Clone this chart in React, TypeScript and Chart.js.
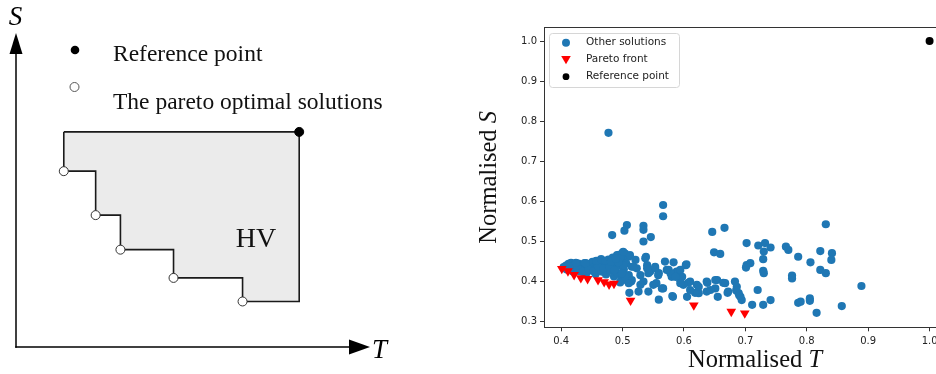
import React, { useEffect, useRef } from "react";
import { Chart, registerables } from "chart.js";
Chart.register(...registerables);

// ---------- Left schematic (hypervolume illustration) ----------
const paretoT = [13.5, 22.5, 29.5, 44.5, 64];
const paretoS = [56, 42, 31, 22, 14.5];
const refT = 80;
const refS = 68.5;
const leftLegend = ["Reference point", "The pareto optimal solutions"];

// ---------- Right scatter ----------
const otherT = [
  0.404, 0.408, 0.412, 0.416, 0.418, 0.422, 0.425, 0.428, 0.43, 0.433, 0.436, 0.438, 0.441, 0.443, 0.446,
  0.449, 0.451, 0.454, 0.456, 0.458, 0.461, 0.463, 0.466, 0.468, 0.471, 0.473, 0.475, 0.477, 0.48, 0.482,
  0.484, 0.486, 0.488, 0.49, 0.492, 0.494, 0.496, 0.498, 0.5, 0.502, 0.504, 0.506, 0.508, 0.51,
  0.477, 0.566, 0.566, 0.507, 0.503, 0.483, 0.534, 0.534, 0.546, 0.534, 0.646, 0.666, 0.649, 0.659,
  0.491, 0.5, 0.496, 0.512, 0.521, 0.515, 0.51, 0.514, 0.511, 0.526, 0.523, 0.529, 0.538, 0.54, 0.545,
  0.534, 0.542, 0.555, 0.559, 0.559, 0.569, 0.566, 0.575, 0.583, 0.582, 0.58, 0.588, 0.594, 0.603, 0.605,
  0.61, 0.621, 0.624, 0.637, 0.637, 0.654, 0.651, 0.664, 0.672, 0.683, 0.702, 0.721, 0.732, 0.741, 0.73,
  0.729, 0.766, 0.77, 0.786, 0.806, 0.822, 0.831, 0.841, 0.84, 0.822, 0.831, 0.702, 0.708, 0.701, 0.729,
  0.73, 0.776, 0.776, 0.889, 0.72, 0.711, 0.729, 0.741, 0.786, 0.79, 0.805, 0.805, 0.816, 0.857, 0.686,
  0.692, 0.694, 0.689, 0.667, 0.671, 0.655, 0.643, 0.638, 0.618, 0.607, 0.604, 0.597, 0.553, 0.542, 0.578,
  0.594, 0.599, 0.61, 0.501, 0.537, 0.501, 0.501, 0.518, 0.515, 0.54, 0.553, 0.558, 0.572, 0.55, 0.564,
  0.586, 0.594, 0.624, 0.581, 0.501, 0.51, 0.529, 0.651, 0.685, 0.69, 0.496, 0.504,
  0.409, 0.419, 0.427, 0.435, 0.445, 0.453, 0.46, 0.469, 0.479, 0.487, 0.493, 0.499, 0.414, 0.424, 0.44,
  0.457, 0.465, 0.472, 0.481, 0.489,
];
const otherS = [
  0.436, 0.44, 0.444, 0.447, 0.432, 0.441, 0.437, 0.445, 0.426, 0.44, 0.432, 0.446, 0.421, 0.438, 0.443,
  0.428, 0.449, 0.436, 0.419, 0.444, 0.431, 0.451, 0.425, 0.44, 0.447, 0.418, 0.434, 0.455, 0.427, 0.442,
  0.46, 0.413, 0.436, 0.45, 0.421, 0.467, 0.44, 0.409, 0.456, 0.43, 0.47, 0.445, 0.404, 0.462,
  0.771, 0.591, 0.563, 0.541, 0.527, 0.516, 0.539, 0.529, 0.511, 0.5, 0.524, 0.534, 0.473, 0.469,
  0.466, 0.472, 0.458, 0.466, 0.454, 0.437, 0.416, 0.4, 0.372, 0.375, 0.433, 0.416, 0.462, 0.441, 0.425,
  0.4, 0.375, 0.396, 0.355, 0.421, 0.45, 0.383, 0.429, 0.448, 0.362, 0.412, 0.425, 0.404, 0.441, 0.362,
  0.4, 0.392, 0.371, 0.4, 0.375, 0.404, 0.383, 0.397, 0.375, 0.4, 0.496, 0.49, 0.496, 0.485, 0.475,
  0.456, 0.487, 0.479, 0.462, 0.448, 0.476, 0.543, 0.471, 0.454, 0.429, 0.421, 0.441, 0.446, 0.435, 0.427,
  0.421, 0.415, 0.408, 0.389, 0.379, 0.342, 0.342, 0.354, 0.347, 0.35, 0.358, 0.352, 0.322, 0.339, 0.387,
  0.362, 0.354, 0.371, 0.396, 0.372, 0.362, 0.379, 0.397, 0.372, 0.397, 0.443, 0.412, 0.433, 0.421, 0.421,
  0.429, 0.392, 0.379, 0.474, 0.458, 0.441, 0.412, 0.437, 0.404, 0.433, 0.437, 0.416, 0.429, 0.392, 0.383,
  0.412, 0.396, 0.387, 0.364, 0.404, 0.396, 0.392, 0.404, 0.378, 0.366, 0.398, 0.413,
  0.43, 0.425, 0.432, 0.424, 0.431, 0.426, 0.438, 0.433, 0.437, 0.428, 0.448, 0.421, 0.438, 0.447, 0.446,
  0.452, 0.456, 0.452, 0.449, 0.457,
];
const frontT = [0.401, 0.411, 0.421, 0.432, 0.443, 0.46, 0.47, 0.478, 0.486, 0.513, 0.616, 0.677, 0.699];
const frontS = [0.432, 0.426, 0.417, 0.409, 0.407, 0.404, 0.399, 0.393, 0.395, 0.353, 0.341, 0.325, 0.321];
const refPointT = [1.0];
const refPointS = [1.0];
const xTicks = [0.4, 0.5, 0.6, 0.7, 0.8, 0.9, 1.0];
const yTicks = [0.3, 0.4, 0.5, 0.6, 0.7, 0.8, 0.9, 1.0];
const seriesNames = ["Other solutions", "Pareto front", "Reference point"];
const xTitle = ["Normalised ", "T"];
const yTitle = ["Normalised ", "S"];

const SERIF = '"Liberation Serif", "Times New Roman", serif';
const SANS = '"DejaVu Sans", sans-serif';

function buildHull() {
  const pts: { x: number; y: number }[] = [{ x: paretoT[0], y: refS }];
  paretoT.forEach((t, i) => {
    pts.push({ x: t, y: paretoS[i] });
    const nx = i < paretoT.length - 1 ? paretoT[i + 1] : refT;
    pts.push({ x: nx, y: paretoS[i] });
  });
  pts.push({ x: refT, y: refS });
  pts.push({ x: paretoT[0], y: refS });
  return pts;
}

const leftDecor = {
  id: "leftDecor",
  afterDraw(chart: any) {
    const { ctx, chartArea } = chart;
    const { left, top, right, bottom } = chartArea;
    ctx.save();
    ctx.strokeStyle = "#000";
    ctx.fillStyle = "#000";
    ctx.lineWidth = 1.5;
    ctx.beginPath();
    ctx.moveTo(left, bottom + 0.75);
    ctx.lineTo(left, top + 18);
    ctx.stroke();
    ctx.beginPath();
    ctx.moveTo(left, top);
    ctx.lineTo(left - 6.5, top + 21);
    ctx.lineTo(left + 6.5, top + 21);
    ctx.closePath();
    ctx.fill();
    ctx.beginPath();
    ctx.moveTo(left - 0.75, bottom);
    ctx.lineTo(right - 18, bottom);
    ctx.stroke();
    ctx.beginPath();
    ctx.moveTo(right, bottom);
    ctx.lineTo(right - 21, bottom - 7.5);
    ctx.lineTo(right - 21, bottom + 7.5);
    ctx.closePath();
    ctx.fill();
    ctx.font = "italic 27px " + SERIF;
    ctx.textBaseline = "alphabetic";
    ctx.textAlign = "center";
    ctx.fillText("S", left - 0.5, top - 8);
    ctx.textAlign = "left";
    ctx.fillText("T", right + 2, bottom + 11);
    ctx.beginPath();
    ctx.arc(75, 50, 4.3, 0, Math.PI * 2);
    ctx.fill();
    ctx.beginPath();
    ctx.fillStyle = "#fff";
    ctx.strokeStyle = "#555";
    ctx.lineWidth = 1;
    ctx.arc(74.5, 87, 4.5, 0, Math.PI * 2);
    ctx.fill();
    ctx.stroke();
    ctx.fillStyle = "#111";
    ctx.font = "23.5px " + SERIF;
    ctx.fillText(leftLegend[0], 113, 61);
    ctx.fillText(leftLegend[1], 113, 109);
    ctx.font = "28px " + SERIF;
    const xs = chart.scales.x;
    const ys = chart.scales.y;
    ctx.fillText("HV", xs.getPixelForValue(62.1), ys.getPixelForValue(31.8));
    ctx.restore();
  },
};

const rightDecor = {
  id: "rightDecor",
  afterDraw(chart: any) {
    const { ctx, chartArea } = chart;
    const { top, bottom } = chartArea;
    ctx.save();
    ctx.fillStyle = "#111";
    ctx.textBaseline = "alphabetic";
    ctx.textAlign = "left";
    const reg = "24.5px " + SERIF;
    const ita = "italic 24.5px " + SERIF;
    ctx.font = reg;
    const wx1 = ctx.measureText(xTitle[0]).width;
    ctx.font = ita;
    const wx2 = ctx.measureText(xTitle[1]).width;
    const cx = 755 - 470;
    const sx = cx - (wx1 + wx2) / 2;
    ctx.font = reg;
    ctx.fillText(xTitle[0], sx, 366.5);
    ctx.font = ita;
    ctx.fillText(xTitle[1], sx + wx1, 366.5);

    ctx.font = reg;
    const wy1 = ctx.measureText(yTitle[0]).width;
    ctx.font = ita;
    const wy2 = ctx.measureText(yTitle[1]).width;
    ctx.save();
    ctx.translate(496 - 470, (top + bottom) / 2);
    ctx.rotate(-Math.PI / 2);
    const sy = -(wy1 + wy2) / 2;
    ctx.font = reg;
    ctx.fillText(yTitle[0], sy, 0);
    ctx.font = ita;
    ctx.fillText(yTitle[1], sy + wy1, 0);
    ctx.restore();

    const bx = 549 - 470 + 0.5;
    const by = 33.5;
    const bw = 130;
    const bh = 54;
    const r = 3;
    ctx.beginPath();
    ctx.moveTo(bx + r, by);
    ctx.lineTo(bx + bw - r, by);
    ctx.quadraticCurveTo(bx + bw, by, bx + bw, by + r);
    ctx.lineTo(bx + bw, by + bh - r);
    ctx.quadraticCurveTo(bx + bw, by + bh, bx + bw - r, by + bh);
    ctx.lineTo(bx + r, by + bh);
    ctx.quadraticCurveTo(bx, by + bh, bx, by + bh - r);
    ctx.lineTo(bx, by + r);
    ctx.quadraticCurveTo(bx, by, bx + r, by);
    ctx.closePath();
    ctx.fillStyle = "rgba(255,255,255,0.8)";
    ctx.fill();
    ctx.strokeStyle = "#d6d6d6";
    ctx.lineWidth = 1;
    ctx.stroke();

    const mx = 566 - 470;
    const rows = [42.7, 59.5, 76.7];
    const ds = chart.data.datasets;
    ctx.fillStyle = ds[0].backgroundColor;
    ctx.beginPath();
    ctx.arc(mx, rows[0], 4, 0, Math.PI * 2);
    ctx.fill();
    ctx.fillStyle = ds[1].backgroundColor;
    ctx.beginPath();
    ctx.moveTo(mx - 4.8, rows[1] - 3.5);
    ctx.lineTo(mx + 4.8, rows[1] - 3.5);
    ctx.lineTo(mx, rows[1] + 4.8);
    ctx.closePath();
    ctx.fill();
    ctx.fillStyle = ds[2].backgroundColor;
    ctx.beginPath();
    ctx.arc(mx, rows[2], 3.4, 0, Math.PI * 2);
    ctx.fill();

    ctx.fillStyle = "#222";
    ctx.font = "10.5px " + SANS;
    ctx.textBaseline = "middle";
    ds.forEach((d: any, i: number) => ctx.fillText(d.label, 586 - 470, rows[i] - 0.5));
    ctx.restore();
  },
};

export default function App() {
  const leftRef = useRef<HTMLCanvasElement>(null);
  const rightRef = useRef<HTMLCanvasElement>(null);

  useEffect(() => {
    const left = new Chart(leftRef.current as HTMLCanvasElement, {
      type: "line",
      data: {
        datasets: [
          {
            label: leftLegend[0],
            data: [{ x: refT, y: refS }],
            showLine: false,
            pointRadius: 4.5,
            pointBackgroundColor: "#000",
            pointBorderColor: "#000",
            pointBorderWidth: 1,
            order: 0,
          } as any,
          {
            label: leftLegend[1],
            data: paretoT.map((t, i) => ({ x: t, y: paretoS[i] })),
            showLine: false,
            pointRadius: 4.5,
            pointBackgroundColor: "#fff",
            pointBorderColor: "#333",
            pointBorderWidth: 1,
            order: 1,
          },
          {
            label: "HV",
            data: buildHull(),
            borderColor: "#1a1a1a",
            borderWidth: 1.6,
            backgroundColor: "#ebebeb",
            fill: "shape",
            pointRadius: 0,
            tension: 0,
            order: 2,
          },
        ],
      },
      options: {
        responsive: false,
        animation: false,
        events: [],
        layout: { padding: { left: 16, right: 30, top: 33, bottom: 27 } },
        scales: {
          x: { type: "linear", min: 0, max: 100, display: false },
          y: { type: "linear", min: 0, max: 100, display: false },
        },
        plugins: { legend: { display: false }, tooltip: { enabled: false } },
      },
      plugins: [leftDecor],
    } as any);

    const tickFont = { family: SANS, size: 10 };
    const right = new Chart(rightRef.current as HTMLCanvasElement, {
      type: "scatter",
      data: {
        datasets: [
          {
            label: seriesNames[0],
            data: otherT.map((t, i) => ({ x: t, y: otherS[i] })),
            backgroundColor: "#1f77b4",
            pointRadius: 4.1,
            pointBorderWidth: 0,
            order: 3,
          },
          {
            label: seriesNames[1],
            data: frontT.map((t, i) => ({ x: t, y: frontS[i] })),
            backgroundColor: "#ff0000",
            pointStyle: "triangle",
            pointRotation: 180,
            pointRadius: 5.6,
            pointBorderWidth: 0,
            order: 2,
          },
          {
            label: seriesNames[2],
            data: refPointT.map((t, i) => ({ x: t, y: refPointS[i] })),
            backgroundColor: "#000",
            pointRadius: 4,
            pointBorderWidth: 0,
            order: 1,
          },
        ],
      },
      options: {
        responsive: false,
        animation: false,
        events: [],
        layout: { padding: { left: 0, top: 27.4, right: 12, bottom: 0 } },
        scales: {
          x: {
            type: "linear",
            min: 0.372,
            max: 1.03,
            afterFit: (s: any) => {
              s.height = 46.7;
            },
            afterBuildTicks: (s: any) => {
              s.ticks = xTicks.map((v) => ({ value: v }));
            },
            ticks: {
              callback: (v: any) => Number(v).toFixed(1),
              font: tickFont,
              color: "#222",
              padding: 4,
              maxRotation: 0,
              autoSkip: false,
            },
            grid: { drawOnChartArea: false, tickLength: 4, color: "#333" },
            border: { color: "#333", width: 1 },
          },
          xTop: {
            type: "linear",
            position: "top",
            display: true,
            min: 0.372,
            max: 1.03,
            afterFit: (s: any) => {
              s.height = 0;
            },
            ticks: { display: false },
            grid: { display: false, drawTicks: false },
            border: { display: true, color: "#333", width: 1 },
          },
          y: {
            type: "linear",
            min: 0.286,
            max: 1.034,
            afterFit: (s: any) => {
              s.width = 74;
            },
            afterBuildTicks: (s: any) => {
              s.ticks = yTicks.map((v) => ({ value: v }));
            },
            ticks: {
              callback: (v: any) => Number(v).toFixed(1),
              font: tickFont,
              color: "#222",
              padding: 3,
              autoSkip: false,
            },
            grid: { drawOnChartArea: false, tickLength: 4, color: "#333" },
            border: { color: "#333", width: 1 },
          },
        },
        plugins: { legend: { display: false }, tooltip: { enabled: false } },
      },
      plugins: [rightDecor],
    } as any);

    return () => {
      left.destroy();
      right.destroy();
    };
  }, []);

  return (
    <div
      style={{
        position: "absolute",
        left: 0,
        top: 0,
        width: 936,
        height: 374,
        overflow: "hidden",
        background: "#fff",
      }}
    >
      <canvas
        ref={leftRef}
        width={400}
        height={374}
        style={{ position: "absolute", left: 0, top: 0, width: 400, height: 374 }}
      />
      <canvas
        ref={rightRef}
        width={490}
        height={374}
        style={{ position: "absolute", left: 470, top: 0, width: 490, height: 374 }}
      />
    </div>
  );
}
